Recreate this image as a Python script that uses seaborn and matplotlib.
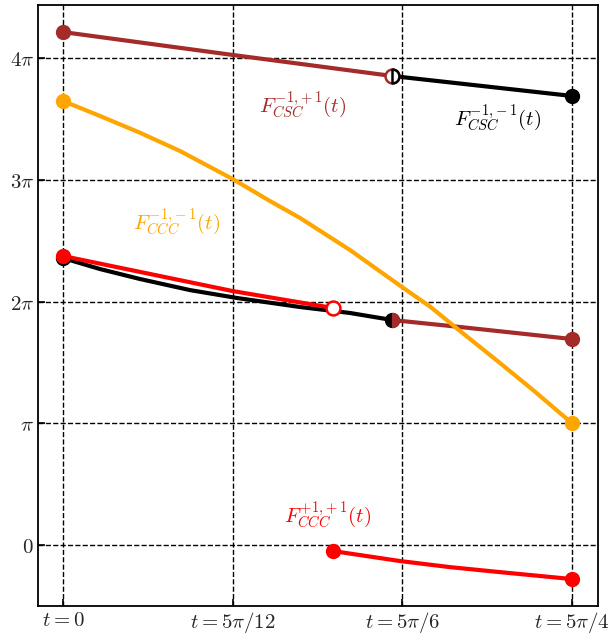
import numpy as np
import pandas as pd
import matplotlib
matplotlib.use("Agg")
import matplotlib.pyplot as plt
from matplotlib.path import Path
import seaborn as sns

# --- data (t in radians, F in units of pi) ---
brown_up_t = [0.0, 1.309, 2.541]
brown_up_y = [4.213, 4.025, 3.852]

black_up_t = [2.541, 3.927]
black_up_y = [3.852, 3.688]

black_low_t = [0.0, 0.285, 0.594, 0.980, 1.343, 1.829, 2.214, 2.541]
black_low_y = [2.357, 2.267, 2.185, 2.094, 2.029, 1.955, 1.906, 1.848]

brown_low_t = [2.541, 3.063, 3.927]
brown_low_y = [1.848, 1.791, 1.692]

red_up_t = [0.0, 1.309, 2.083]
red_up_y = [2.374, 2.086, 1.947]

red_low_t = [2.083, 2.600, 2.986, 3.371, 3.927]
red_low_y = [-0.049, -0.131, -0.181, -0.222, -0.279]

orange_t = [0.0, 0.285, 0.594, 0.903, 1.309, 1.597, 1.829, 2.214, 2.615,
            2.831, 3.063, 3.371, 3.626, 3.927]
orange_y = [3.647, 3.524, 3.386, 3.236, 3.006, 2.825, 2.686, 2.423, 2.119,
            1.959, 1.758, 1.495, 1.273, 1.0]

xtick_vals = [0, 5 * np.pi / 12, 5 * np.pi / 6, 5 * np.pi / 4]
xtick_labels = [r"$t=0$", r"$t=5\pi/12$", r"$t=5\pi/6$", r"$t=5\pi/4$"]
ytick_vals = [0, 1, 2, 3, 4]
ytick_labels = [r"$0$", r"$\pi$", r"$2\pi$", r"$3\pi$", r"$4\pi$"]

BROWN = "#a52a2a"
ORANGE = "#ffa500"
RED = "#ff0000"

sns.set_style("white")
plt.rcParams["mathtext.fontset"] = "cm"

fig = plt.figure(figsize=(6.16, 6.36), dpi=100)
ax = fig.add_axes([0.0617, 0.0472, 0.9093, 0.9449])

lw = 3.0
ms = 10


def curve(t, y, color, z):
    df = pd.DataFrame({"t": t, "y": y})
    sns.lineplot(data=df, x="t", y="y", color=color, linewidth=lw, ax=ax,
                 zorder=z, sort=False, estimator=None)


curve(black_low_t, black_low_y, "black", 3)
curve(red_up_t, red_up_y, RED, 4)
curve(brown_up_t, brown_up_y, BROWN, 3)
curve(black_up_t, black_up_y, "black", 3)
curve(brown_low_t, brown_low_y, BROWN, 3)
curve(red_low_t, red_low_y, RED, 3)
curve(orange_t, orange_y, ORANGE, 5)

# half-disc marker (right half)
arc = Path.arc(-90, 90)
half = Path(np.vstack([arc.vertices, arc.vertices[:1]]),
            np.concatenate([arc.codes, [Path.CLOSEPOLY]]))

# endpoint markers
ax.plot(brown_up_t[0], brown_up_y[0], "o", color=BROWN, ms=ms, zorder=6)
ax.plot(brown_up_t[-1], brown_up_y[-1], "o", mfc="white", mec=BROWN, mew=1.8, ms=ms, zorder=6)
ax.plot(black_up_t[0], black_up_y[0], marker=half, ms=ms, mfc="white", mec="black", mew=1.8,
        ls="none", zorder=7)
ax.plot(black_up_t[-1], black_up_y[-1], "o", color="black", ms=ms, zorder=6)

ax.plot(black_low_t[0], black_low_y[0], "o", color="black", ms=ms, zorder=6)
ax.plot(red_up_t[0], red_up_y[0], "o", color=RED, ms=ms, zorder=7)
ax.plot(red_up_t[-1], red_up_y[-1], "o", mfc="white", mec=RED, mew=1.8, ms=ms, zorder=7)
ax.plot(black_low_t[-1], black_low_y[-1], "o", color="black", ms=ms, zorder=6)
ax.plot(brown_low_t[0], brown_low_y[0], marker=half, ms=ms, color=BROWN, ls="none", zorder=7)
ax.plot(brown_low_t[-1], brown_low_y[-1], "o", color=BROWN, ms=ms, zorder=6)

ax.plot(red_low_t[0], red_low_y[0], "o", color=RED, ms=ms, zorder=6)
ax.plot(red_low_t[-1], red_low_y[-1], "o", color=RED, ms=ms, zorder=6)
ax.plot(orange_t[0], orange_y[0], "o", color=ORANGE, ms=ms, zorder=6)
ax.plot(orange_t[-1], orange_y[-1], "o", color=ORANGE, ms=ms, zorder=6)

# labels
fs = 15
ax.text(1.852, 3.614, r"$F_{CSC}^{-1,\!+1}(t)$", color=BROWN, fontsize=fs, ha="center", va="center")
ax.text(3.356, 3.507, r"$F_{CSC}^{-1,\!-1}(t)$", color="black", fontsize=fs, ha="center", va="center")
ax.text(0.880, 2.653, r"$F_{CCC}^{-1,\!-1}(t)$", color=ORANGE, fontsize=fs, ha="center", va="center")
ax.text(2.044, 0.246, r"$F_{CCC}^{+1,\!+1}(t)$", color=RED, fontsize=fs, ha="center", va="center")

ax.set_xlim(-0.193, 4.128)
ax.set_ylim(-0.50, 4.435)
ax.set_xticks(xtick_vals)
ax.set_xticklabels(xtick_labels, fontsize=fs)
ax.set_yticks(ytick_vals)
ax.set_yticklabels(ytick_labels, fontsize=fs)
ax.set_xlabel("")
ax.set_ylabel("")
ax.tick_params(direction="in", length=5, width=1.2, color="black", bottom=True, left=True, pad=3)
ax.grid(True, color="black", linestyle="--", linewidth=1.0)
ax.set_axisbelow(True)
for s in ax.spines.values():
    s.set_color("black")
    s.set_linewidth(1.3)

fig.savefig("out.png", dpi=100)
